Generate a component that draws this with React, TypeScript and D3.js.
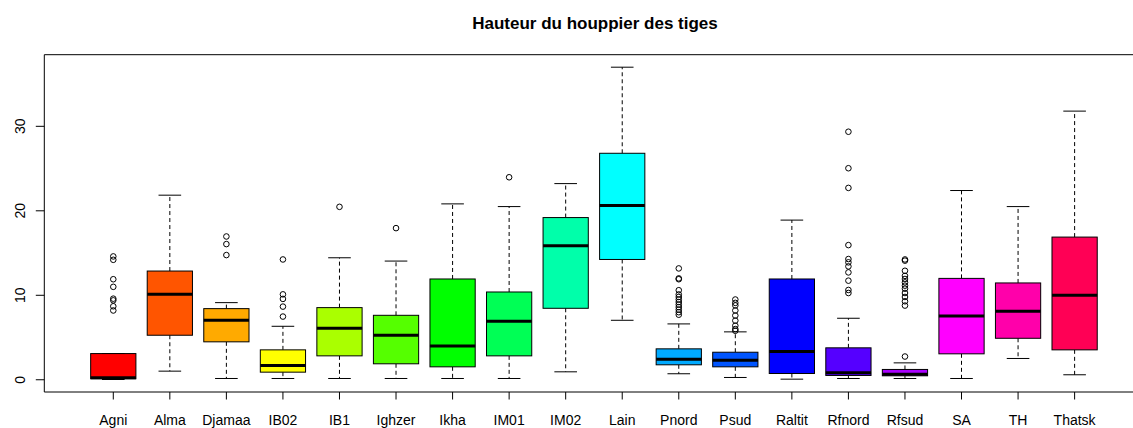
import React from "react";
import * as d3 from "d3";

const categories = ["Agni","Alma","Djamaa","IB02","IB1","Ighzer","Ikha","IM01","IM02","Lain","Pnord","Psud","Raltit","Rfnord","Rfsud","SA","TH","Thatsk"];
const lowerWhisker = [0.03,1.02,0.15,0.15,0.15,0.15,0.15,0.15,0.94,7.04,0.71,0.27,0.07,0.15,0.15,0.15,2.52,0.59];
const q1 = [0.12,5.27,4.49,0.9,2.83,1.89,1.53,2.83,8.46,14.24,1.77,1.53,0.74,0.51,0.47,3.07,4.91,3.54];
const medians = [0.24,10.11,7.04,1.69,6.1,5.27,4.01,6.92,15.86,20.62,2.43,2.31,3.34,0.83,0.66,7.56,8.1,9.99];
const q3 = [3.1,12.87,8.42,3.54,8.54,7.63,11.93,10.39,19.2,26.81,3.66,3.26,11.93,3.78,1.22,12.0,11.46,16.89];
const upperWhisker = [3.1,21.85,9.13,6.33,14.44,14.05,20.82,20.5,23.22,37.0,6.61,5.67,18.9,7.28,2.0,22.4,20.5,31.8];
const outliers: number[][] = [
  [14.6,14.2,11.9,11.0,9.6,9.4,8.7,8.2],
  [],
  [16.96,16.06,14.76],
  [14.24,10.11,9.57,8.66,7.48],
  [20.47],
  [17.95],
  [],
  [23.97],
  [],
  [],
  [13.18,12.0,11.9,10.6,10.1,9.8,9.5,9.2,8.9,8.6,8.3,8.0,7.7],
  [9.5,9.1,8.8,8.2,7.6,7.0,6.4,6.0,5.8],
  [],
  [29.36,25.04,22.71,15.94,14.29,13.9,13.42,12.71,11.73,10.63,10.27],
  [2.75,14.24,14.1,12.9,12.3,11.93,11.53,11.14,10.78,10.27,9.8,9.29,8.78],
  [],
  [],
  [],
];
const yTicks = [0, 10, 20, 30];
const title = "Hauteur du houppier des tiges";

const W = 1133, H = 428;
const plotLeft = 44.3, plotRight = 1143.6, plotTop = 54.7, plotBottom = 392;

export default function App() {
  const n = categories.length;
  const colors = categories.map((_, i) => d3.rgb(d3.hsl((360 * i) / n, 1, 0.5)).formatHex());
  const allVals = [...lowerWhisker, ...upperWhisker, ...outliers.flat()];
  const lo = d3.min(allVals)!, hi = d3.max(allVals)!;
  const ext = (hi - lo) * 0.04;
  const y = d3.scaleLinear().domain([lo - ext, hi + ext]).range([plotBottom, plotTop]);
  const xExt = n * 0.04;
  const x = d3.scaleLinear().domain([0.5 - xExt, n + 0.5 + xExt]).range([plotLeft, plotRight]);
  const step = x(2) - x(1);
  const bw = step * 0.8;
  const cw = bw / 2;
  const font = "'Liberation Sans', Arial, Helvetica, sans-serif";

  return (
    <svg width={W} height={H} style={{ position: "absolute", left: 0, top: 0, background: "#fff" }} fontFamily={font}>
      <rect x={0} y={0} width={W} height={H} fill="#fff" />
      <text x={595} y={29} textAnchor="middle" fontWeight="bold" fontSize={17}>{title}</text>
      {categories.map((c, i) => {
        const cx = x(i + 1);
        return (
          <g key={c}>
            <line x1={cx} x2={cx} y1={y(q3[i])} y2={y(upperWhisker[i])} stroke="#000" strokeDasharray="4,3" />
            <line x1={cx} x2={cx} y1={y(q1[i])} y2={y(lowerWhisker[i])} stroke="#000" strokeDasharray="4,3" />
            <line x1={cx - cw / 2} x2={cx + cw / 2} y1={y(upperWhisker[i])} y2={y(upperWhisker[i])} stroke="#000" />
            <line x1={cx - cw / 2} x2={cx + cw / 2} y1={y(lowerWhisker[i])} y2={y(lowerWhisker[i])} stroke="#000" />
            <rect x={cx - bw / 2} y={y(q3[i])} width={bw} height={y(q1[i]) - y(q3[i])} fill={colors[i]} stroke="#000" strokeWidth={1} />
            <line x1={cx - bw / 2} x2={cx + bw / 2} y1={y(medians[i])} y2={y(medians[i])} stroke="#000" strokeWidth={3} />
            {outliers[i].map((v, k) => (
              <circle key={k} cx={cx} cy={y(v)} r={2.8} fill="none" stroke="#000" strokeWidth={1} />
            ))}
            <line x1={cx} x2={cx} y1={plotBottom} y2={plotBottom + 7.5} stroke="#000" />
            <text x={cx} y={424.5} textAnchor="middle" fontSize={14}>{c}</text>
          </g>
        );
      })}
      {yTicks.map((t) => (
        <g key={t}>
          <line x1={plotLeft - 8.5} x2={plotLeft} y1={y(t)} y2={y(t)} stroke="#000" />
          <text transform={`translate(25,${y(t)}) rotate(-90)`} textAnchor="middle" fontSize={14}>{t}</text>
        </g>
      ))}
      <line x1={plotLeft} x2={plotLeft} y1={plotTop} y2={plotBottom} stroke="#000" />
      <line x1={plotLeft} x2={plotRight} y1={plotTop} y2={plotTop} stroke="#000" />
      <line x1={plotLeft} x2={plotRight} y1={plotBottom} y2={plotBottom} stroke="#000" />
    </svg>
  );
}
